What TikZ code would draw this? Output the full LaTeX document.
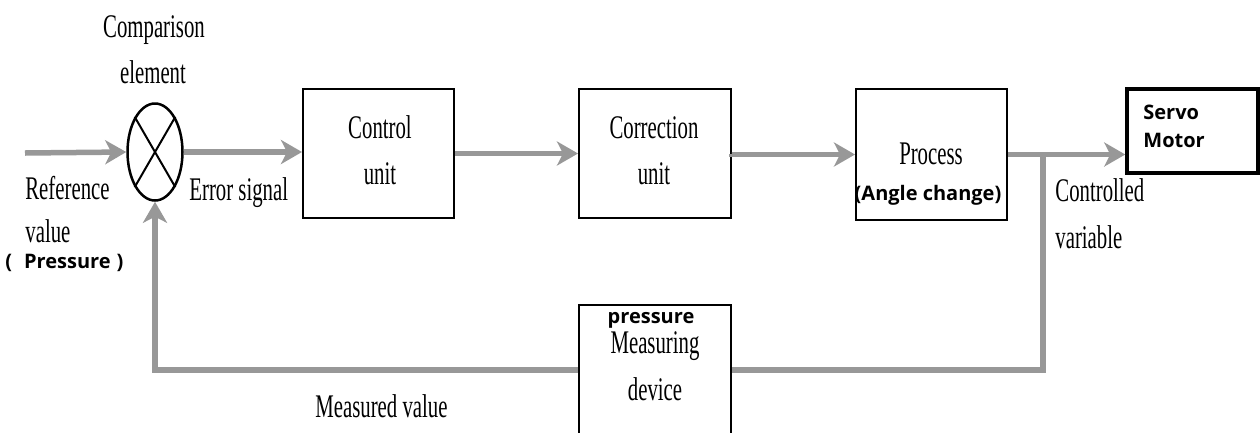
\documentclass[tikz,border=0pt]{standalone}
\usepackage{fontspec}
\usetikzlibrary{arrows.meta,shapes.geometric}
\newfontfamily\figserif[FakeStretch=0.63]{Liberation Serif}
\newfontfamily\figsans{Open Sans}
\definecolor{flowgray}{RGB}{152,152,152}

\tikzset{every picture/.style={line width=0.75pt}}
\tikzset{
  blockbox/.style={draw, line width=2, rectangle, inner sep=0},
  serif text/.style={inner sep=0, font=\figserif\fontsize{33}{36}\selectfont},
  sans text/.style={inner sep=0, font=\figsans\bfseries\fontsize{20}{24}\selectfont},
  flowline/.style={draw=flowgray, line width=5.5},
  flow/.style={flowline, -{Stealth[length=21pt,width=24pt,inset=6pt]}}
}

\begin{document}
\begin{tikzpicture}[x=1pt,y=1pt,yscale=-1,xscale=1]
\clip (0,0) rectangle (1260,432);

%Shape: Ellipse [id:cmp]
\node (cmp) [draw, ellipse, line width=2.5, minimum width=55, minimum height=97, inner sep=0] at (155,152) {};
\draw [line width=2] (cmp.north west) -- (cmp.south east) ;
\draw [line width=2] (cmp.north east) -- (cmp.south west) ;

%Shape: Rectangle [id:ctrl]
\node (ctrl) [blockbox, minimum width=151, minimum height=129] at (378.5,153.5) {};
%Shape: Rectangle [id:corr]
\node (corr) [blockbox, minimum width=152, minimum height=129] at (655,153.5) {};
%Shape: Rectangle [id:proc]
\node (proc) [blockbox, minimum width=151, minimum height=131] at (931.5,154.5) {};
%Shape: Rectangle [id:servo]
\node (servo) [blockbox, line width=3.5, minimum width=131, minimum height=84] at (1192.5,131) {};
%Shape: Rectangle [id:meas]
\node (meas) [blockbox, line width=2, minimum width=152, minimum height=130] at (655,370) {};

\coordinate (refin) at (25,153);
\coordinate (tap) at (1043,154);

%Straight Lines [id:flow]
\draw [flow] (refin) -- (cmp.west) ;
\draw [flow] (cmp.east) -- (cmp.east -| ctrl.west) ;
\draw [flow] (ctrl.east) -- (ctrl.east -| corr.west) ;
\draw [flow] (corr.east) -- (corr.east |- proc.west) -- (proc.west) ;
\draw [flow] (proc.east) -- (proc.east -| servo.west) ;
\draw [flowline] (tap) |- (meas.east) ;
\draw [flow] (meas.west) -| (cmp.south) ;

% Text Node
\node (cmptxa) [serif text, anchor=base] at (154,37.5) {Comparison};
\node (cmptxb) [serif text, anchor=base] at (153,83) {element};
% Text Node
\node (reftxa) [serif text, anchor=base west] at (25,199) {Reference};
\node (reftxb) [serif text, anchor=base west] at (25,242) {value};
\node (reftxc) [sans text, anchor=base west] at (5,268) {(\hspace{12pt}Pressure\hspace{6pt})};
% Text Node
\node (errtx) [serif text, anchor=base west] at (189,200) {Error signal};
% Text Node
\node (ctrltxa) [serif text, anchor=base] at (380,138) {Control};
\node (ctrltxb) [serif text, anchor=base] at (380,184) {unit};
% Text Node
\node (corrtxa) [serif text, anchor=base] at (654,138) {Correction};
\node (corrtxb) [serif text, anchor=base] at (654,184) {unit};
% Text Node
\node (proctxa) [serif text, anchor=base] at (931,164) {Process};
\node (proctxb) [sans text, anchor=base] at (928,200) {(Angle change)};
% Text Node
\node (servotxa) [sans text, anchor=base west] at (1143,119) {Servo};
\node (servotxb) [sans text, anchor=base west] at (1143,147) {Motor};
% Text Node
\node (cvtxa) [serif text, anchor=base west] at (1055,201) {Controlled};
\node (cvtxb) [serif text, anchor=base west] at (1055,248) {variable};
% Text Node
\node (meastxa) [sans text, anchor=base] at (651,323) {pressure};
\node (meastxb) [serif text, anchor=base] at (655,353) {Measuring};
\node (meastxc) [serif text, anchor=base] at (655,400) {device};
% Text Node
\node (mvtx) [serif text, anchor=base west] at (315,417) {Measured value};

\end{tikzpicture}
\end{document}
